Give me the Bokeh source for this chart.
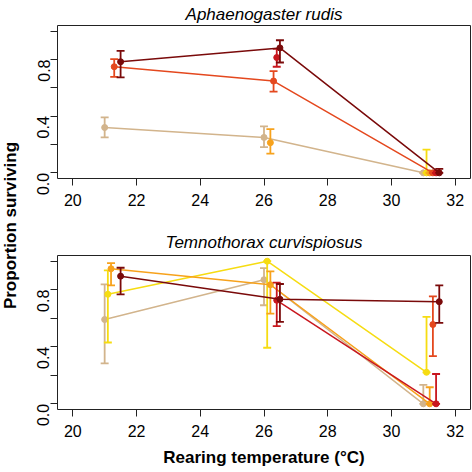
import math
from bokeh.plotting import figure
from bokeh.models import ColumnDataSource, FixedTicker, Label, Title, Range1d
from bokeh.layouts import row, column
from bokeh.embed import file_html
from bokeh.resources import INLINE

# ---------------- data ----------------
temperatures = [21, 26, 31]
colony_colours = ["#D2B48C", "#F6DC12", "#F7A21C", "#E4481E", "#C8161D", "#7A0A0A"]
colony_offsets = [0.0, 0.1, 0.2, 0.3, 0.4, 0.5]
x_ticks = [20, 22, 24, 26, 28, 30, 32]
y_ticks = [0.0, 0.2, 0.4, 0.6, 0.8, 1.0]
y_tick_labels = {0.0: "0.0", 0.2: "", 0.4: "0.4", 0.6: "", 0.8: "0.8", 1.0: ""}

# Aphaenogaster rudis (one list per colony; None = no value)
rudis_mean = [
    [0.32, 0.25, 0.0],
    [None, None, 0.0],
    [None, 0.213, 0.0],
    [0.749, 0.648, 0.0],
    [None, 0.814, 0.0],
    [0.784, 0.882, 0.0],
]
rudis_lower = [
    [0.251, 0.182, 0.0],
    [None, None, 0.0],
    [None, 0.136, 0.0],
    [0.678, 0.573, 0.0],
    [None, 0.749, 0.0],
    [0.674, 0.779, 0.0],
]
rudis_upper = [
    [0.391, 0.328, 0.0],
    [None, None, 0.164],
    [None, 0.309, 0.0],
    [0.803, 0.718, 0.0],
    [None, 0.875, 0.0],
    [0.861, 0.936, 0.028],
]
rudis_joined = [True, False, False, True, False, True]

# Temnothorax curvispiosus
curv_mean = [
    [0.591, 0.87, 0.0],
    [0.768, 1.0, 0.221],
    [0.947, 0.835, 0.0],
    [None, None, 0.556],
    [None, 0.726, 0.0],
    [0.895, 0.733, 0.716],
]
curv_lower = [
    [0.284, 0.691, 0.0],
    [0.43, 0.393, 0.221],
    [0.83, 0.633, 0.0],
    [None, None, 0.335],
    [None, 0.545, 0.0],
    [0.768, 0.574, 0.567],
]
curv_upper = [
    [0.837, 0.951, 0.133],
    [0.935, 1.0, 0.609],
    [0.986, 0.928, 0.116],
    [None, None, 0.753],
    [None, 0.85, 0.209],
    [0.954, 0.84, 0.83],
]
curv_joined = [True, True, True, False, True, True]

FONT = "Liberation Sans"
CAP = 0.125  # half width of error-bar caps, x units
LAB_W = 22


def panel(title, means, lowers, uppers, joined, height, b_top, b_bottom, xlabel, t_standoff):
    p = figure(width=472 - LAB_W, height=height, output_backend="svg", toolbar_location=None,
               x_range=Range1d(19.52, 32.48), y_range=Range1d(-0.04, 1.04),
               min_border_left=57 - LAB_W, min_border_right=2,
               min_border_top=b_top, min_border_bottom=b_bottom)
    p.title = Title(text=title, align="center", text_font=FONT, text_font_style="italic",
                    text_font_size="17px", text_color="black", standoff=t_standoff)
    p.grid.visible = False
    p.outline_line_color = "#222222"
    p.outline_line_width = 1
    p.outline_line_alpha = 1.0
    p.background_fill_color = "white"
    p.border_fill_color = "white"

    for ax in (p.xaxis[0], p.yaxis[0]):
        ax.axis_line_color = None
        ax.major_tick_in = 0
        ax.major_tick_out = 7
        ax.major_tick_line_color = "#222222"
        ax.minor_tick_line_color = None
        ax.major_label_text_font = FONT
        ax.major_label_text_font_size = "16px"
        ax.major_label_text_color = "black"
    p.xaxis.ticker = FixedTicker(ticks=x_ticks)
    p.xaxis.major_label_standoff = 8
    p.yaxis.ticker = FixedTicker(ticks=y_ticks)
    p.yaxis.major_label_overrides = y_tick_labels
    p.yaxis.major_label_orientation = math.pi / 2
    p.yaxis.major_label_standoff = 7
    if xlabel:
        p.xaxis.axis_label = xlabel
        p.xaxis.axis_label_text_font = FONT
        p.xaxis.axis_label_text_font_style = "bold"
        p.xaxis.axis_label_text_font_size = "17px"
        p.xaxis.axis_label_text_color = "black"
        p.xaxis.axis_label_standoff = 8

    for k, colour in enumerate(colony_colours):
        xs, ys, lo, hi = [], [], [], []
        for t, m, l, u in zip(temperatures, means[k], lowers[k], uppers[k]):
            if m is None:
                continue
            xs.append(t + colony_offsets[k])
            ys.append(m)
            lo.append(l)
            hi.append(u)
        src = ColumnDataSource(dict(x=xs, y=ys, lo=lo, hi=hi,
                                    xl=[v - CAP for v in xs], xr=[v + CAP for v in xs]))
        if joined[k] and len(xs) > 1:
            p.line("x", "y", source=src, line_color=colour, line_width=1.5)
        p.segment(x0="x", y0="lo", x1="x", y1="hi", source=src, line_color=colour, line_width=1.8)
        p.segment(x0="xl", y0="lo", x1="xr", y1="lo", source=src, line_color=colour, line_width=1.8)
        p.segment(x0="xl", y0="hi", x1="xr", y1="hi", source=src, line_color=colour, line_width=1.8)
        p.scatter("x", "y", source=src, size=6, fill_color=colour, line_color=colour)
    return p


top = panel("Aphaenogaster rudis", rudis_mean, rudis_lower, rudis_upper, rudis_joined,
            height=218, b_top=23, b_bottom=40, xlabel=None, t_standoff=4)
bottom = panel("Temnothorax curvispiosus", curv_mean, curv_lower, curv_upper, curv_joined,
               height=254, b_top=37, b_bottom=63, xlabel="Rearing temperature (\u00b0C)",
               t_standoff=7)

ylab = figure(width=LAB_W, height=472, output_backend="svg", toolbar_location=None,
              x_range=Range1d(0, LAB_W), y_range=Range1d(0, 472),
              min_border_left=0, min_border_right=0, min_border_top=0, min_border_bottom=0)
ylab.axis.visible = False
ylab.grid.visible = False
ylab.outline_line_color = None
ylab.add_layout(Label(x=10, y=472 - 225, text="Proportion surviving", angle=math.pi / 2,
                      text_align="center", text_baseline="middle", text_font=FONT,
                      text_font_style="bold", text_font_size="17px", text_color="black"))

layout = row(ylab, column(top, bottom))
open("out.html", "w").write(file_html(layout, INLINE))
